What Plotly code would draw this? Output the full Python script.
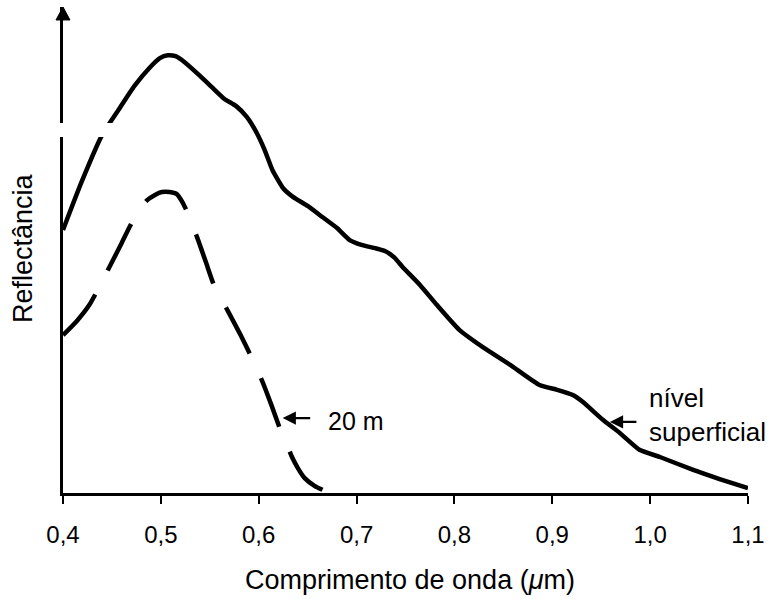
import plotly.graph_objects as go

# Wavelength (µm) and relative reflectance (arbitrary units)
surface_wl = [0.400, 0.419, 0.440, 0.458, 0.473, 0.489, 0.499, 0.507, 0.515, 0.524,
              0.540, 0.555, 0.565, 0.577, 0.588, 0.598, 0.606, 0.614, 0.625, 0.635,
              0.650, 0.665, 0.680, 0.693, 0.705, 0.719, 0.729, 0.739, 0.747, 0.765,
              0.782, 0.805, 0.829, 0.857, 0.887, 0.905, 0.921, 0.931, 0.952, 0.969,
              0.989, 1.010, 1.044, 1.071, 1.100]
surface_refl = [54.8, 64.8, 74.6, 80.2, 84.8, 88.7, 90.6, 91.2, 91.0, 89.8,
                86.9, 84.0, 82.1, 80.6, 78.3, 75.0, 71.5, 67.3, 63.5, 61.7,
                59.8, 57.5, 55.2, 52.7, 51.7, 51.0, 50.4, 49.0, 47.1, 43.3,
                39.2, 34.0, 30.4, 26.7, 22.5, 21.5, 20.4, 19.0, 15.2, 12.5,
                9.0, 7.5, 4.8, 2.9, 1.0]

depth20_wl = [0.400, 0.414, 0.427, 0.437, 0.448, 0.460, 0.470, 0.478, 0.486, 0.494,
              0.501, 0.509, 0.516, 0.522, 0.527, 0.532, 0.537, 0.546, 0.555, 0.568,
              0.581, 0.593, 0.604, 0.613, 0.623, 0.629, 0.634, 0.640, 0.647, 0.657,
              0.670]
depth20_refl = [32.9, 35.8, 39.2, 42.9, 47.3, 52.1, 56.2, 59.0, 61.0, 62.1,
                62.7, 62.7, 62.3, 60.6, 58.5, 55.8, 53.3, 48.1, 42.9, 38.1,
                33.1, 28.1, 23.1, 18.3, 12.7, 10.0, 7.5, 5.2, 3.1, 1.5,
                0.2]

tick_vals = [0.4, 0.5, 0.6, 0.7, 0.8, 0.9, 1.0, 1.1]
tick_text = ["0,4", "0,5", "0,6", "0,7", "0,8", "0,9", "1,0", "1,1"]

x_title = "Comprimento de onda (<i>μ</i>m)"
y_title = "Reflectância"
label_20m = "20 m"
label_surface = "nível<br>superficial"

FONT = "Liberation Sans, Arial, Helvetica, sans-serif"

fig = go.Figure()
fig.add_trace(go.Scatter(
    x=surface_wl, y=surface_refl, mode="lines",
    line=dict(color="black", width=4.5, shape="spline", smoothing=0.5),
    showlegend=False, hoverinfo="skip"))
fig.add_trace(go.Scatter(
    x=depth20_wl, y=depth20_refl, mode="lines",
    line=dict(color="black", width=4.5, shape="spline", smoothing=0.5,
              dash="52px,27px"),
    showlegend=False, hoverinfo="skip"))

fig.update_layout(
    width=773, height=599,
    margin=dict(l=63, r=25, t=7, b=106),
    paper_bgcolor="white", plot_bgcolor="white",
    font=dict(family=FONT, color="black", size=24),
    xaxis=dict(range=[0.4, 1.1], tickvals=tick_vals, ticktext=tick_text,
               showgrid=False, zeroline=False, showline=True,
               linecolor="black", linewidth=2.5,
               ticks="outside", ticklen=8, tickwidth=2, tickcolor="black",
               tickfont=dict(size=24), ticklabelstandoff=10),
    yaxis=dict(range=[0, 101.25], showticklabels=False, ticks="",
               showgrid=False, zeroline=False, showline=True,
               linecolor="black", linewidth=2.5),
    shapes=[
        # arrow head at the top of the y axis
        dict(type="path", xref="paper", yref="paper",
             path="M -0.0102,0.9733 L 0,1.0 L 0.0102,0.9733 Z",
             fillcolor="black", line=dict(color="black", width=1)),
        # white scanning band crossing the axis and the curve
        dict(type="rect", xref="paper", yref="paper", layer="above",
             x0=-0.012, x1=0.078, y0=0.7325, y1=0.7613,
             fillcolor="white", line=dict(width=0)),
    ],
)

annotations = [
    dict(text=x_title, xref="paper", yref="paper", x=0.5066, y=-0.179,
         xanchor="center", yanchor="middle", showarrow=False,
         font=dict(size=27)),
    dict(text=y_title, xref="paper", yref="paper", x=-0.0584, y=0.504,
         xanchor="center", yanchor="middle", showarrow=False,
         textangle=-90, font=dict(size=27)),
    dict(text=label_20m, xref="x", yref="y", x=0.6684, y=15.0,
         xanchor="left", yanchor="middle", showarrow=False,
         font=dict(size=25)),
    dict(text="", xref="x", yref="y", x=0.6245, y=15.6, ax=29, ay=0,
         showarrow=True, arrowhead=2, arrowsize=1.2, arrowwidth=2.2,
         arrowcolor="black", standoff=0),
    dict(text=label_surface, xref="x", yref="y", x=0.9967, y=16.2,
         xanchor="left", yanchor="middle", align="left", showarrow=False,
         font=dict(size=26)),
    dict(text="", xref="x", yref="y", x=0.9589, y=14.8, ax=28, ay=0,
         showarrow=True, arrowhead=2, arrowsize=1.2, arrowwidth=2.2,
         arrowcolor="black", standoff=0),
]
fig.update_layout(annotations=annotations)

fig.write_html("out.html", config={"displayModeBar": False},
               post_script="document.body.style.margin='0';")
